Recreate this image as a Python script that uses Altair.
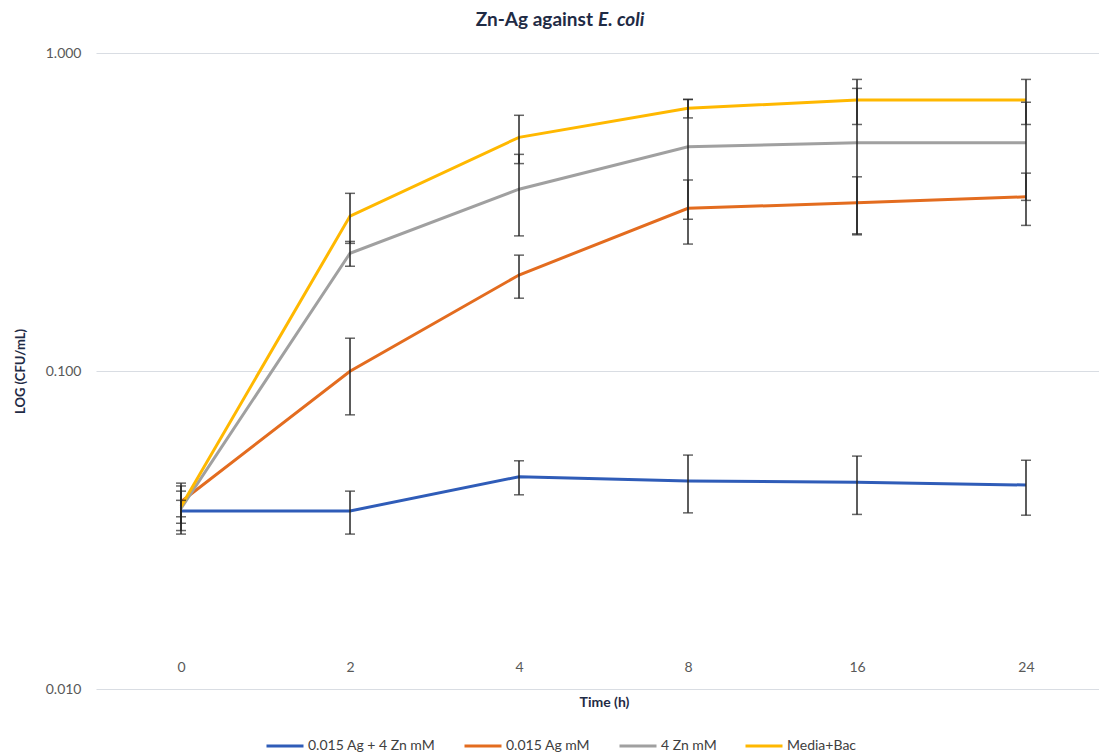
import altair as alt
import pandas as pd

times = ["0", "2", "4", "8", "16", "24"]
series = ["0.015 Ag + 4 Zn mM", "0.015 Ag mM", "4 Zn mM", "Media+Bac"]
colors = ["#2F5CB8", "#E36C1F", "#A0A0A0", "#FFB800"]

agzn = [0.0363, 0.0363, 0.0465, 0.0451, 0.0447, 0.0438]
agzn_err = [0.0056, 0.0056, 0.0057, 0.0093, 0.0093, 0.0086]
ag = [0.0388, 0.0998, 0.2004, 0.3247, 0.338, 0.353]
ag_err = [0.0056, 0.027, 0.031, 0.074, 0.070, 0.066]
zn = [0.0370, 0.2345, 0.373, 0.507, 0.522, 0.522]
zn_err = [0.0022, 0.021, 0.107, 0.207, 0.252, 0.178]
media = [0.0375, 0.307, 0.543, 0.670, 0.711, 0.711]
media_err = [0.006, 0.055, 0.094, 0.045, 0.115, 0.115]

title_main = "Zn-Ag against"
title_italic = "E. coli"
y_title = "LOG (CFU/mL)"
x_title = "Time (h)"
y_ticks = [0.01, 0.1, 1.0]

rows = []
for s, vals, errs in zip(series, [agzn, ag, zn, media], [agzn_err, ag_err, zn_err, media_err]):
    for t, v, e in zip(times, vals, errs):
        rows.append({"time": t, "series": s, "value": v, "lo": v - e, "hi": v + e})
df = pd.DataFrame(rows)

FONT = "Lato"
NAVY = "#1F2B45"

xscale = alt.Scale(type="point", padding=0.4675, align=0.538)

xenc = alt.X(
    "time:O",
    sort=times,
    scale=xscale,
    axis=alt.Axis(
        orient="bottom",
        title=x_title,
        labelAngle=0,
        labelPadding=-22,
        labelBaseline="middle",
        labelFontSize=14,
        labelColor="#595959",
        labelFont=FONT,
        ticks=False,
        tickSize=0,
        domain=False,
        grid=False,
        titleFont=FONT,
        titleFontSize=14,
        titleFontWeight="bold",
        titleColor=NAVY,
        titleX=508,
        titleY=13,
        titleAlign="center",
        titleBaseline="middle",
    ),
)

yscale = alt.Scale(type="log", domain=[0.01, 1])

base = alt.Chart(df)

lines = base.mark_line(strokeWidth=3).encode(
    x=xenc,
    y=alt.Y(
        "value:Q",
        scale=yscale,
        axis=alt.Axis(
            values=y_ticks,
            format=".3f",
            title=y_title,
            grid=True,
            gridColor="#D9DDE3",
            gridWidth=1,
            domain=False,
            ticks=False,
            labelPadding=15,
            labelFontSize=14,
            labelColor="#595959",
            labelFont=FONT,
            titleFont=FONT,
            titleFontSize=13,
            titleFontWeight="bold",
            titleColor=NAVY,
            titleX=-76,
            titleY=318,
            titleAngle=-90,
            titleAlign="center",
            titleBaseline="middle",
        ),
    ),
    color=alt.Color(
        "series:N",
        scale=alt.Scale(domain=series, range=colors),
        sort=series,
        legend=alt.Legend(
            title=None,
            orient="none",
            legendX=169,
            legendY=673,
            direction="horizontal",
            symbolType="stroke",
            symbolSize=1369,
            symbolStrokeWidth=3,
            labelFont=FONT,
            labelFontSize=14,
            labelColor="#404040",
            labelOffset=3,
            columnPadding=22,
        ),
    ),
    order=alt.Order("series:N"),
)

rules = base.mark_rule(color="#262626", strokeWidth=1.5).encode(
    x=alt.X("time:O", sort=times, scale=xscale),
    y=alt.Y("lo:Q", scale=yscale),
    y2="hi:Q",
)
cap_lo = base.mark_tick(color="#262626", thickness=1.5, size=10).encode(
    x=alt.X("time:O", sort=times, scale=xscale),
    y=alt.Y("lo:Q", scale=yscale),
)
cap_hi = base.mark_tick(color="#262626", thickness=1.5, size=10).encode(
    x=alt.X("time:O", sort=times, scale=xscale),
    y=alt.Y("hi:Q", scale=yscale),
)

t1 = alt.Chart(pd.DataFrame({"t": [title_main]})).mark_text(
    font=FONT, fontSize=19, fontWeight="bold", color=NAVY, align="right", baseline="middle"
).encode(text="t:N", x=alt.value(497), y=alt.value(-33))
t2 = alt.Chart(pd.DataFrame({"t": [title_italic]})).mark_text(
    font=FONT, fontSize=19, fontWeight="bold", fontStyle="italic", color=NAVY, align="left", baseline="middle"
).encode(text="t:N", x=alt.value(502), y=alt.value(-33))

chart = alt.layer(lines, rules, cap_lo, cap_hi, t1, t2).properties(
    width=1003,
    height=636,
    autosize=alt.AutoSizeParams(type="none"),
    padding={"left": 88, "top": 45, "right": 0, "bottom": 65},
    background="white",
).configure_view(stroke=None)

chart.save("out.html", embed_options={"renderer": "svg", "actions": False})
